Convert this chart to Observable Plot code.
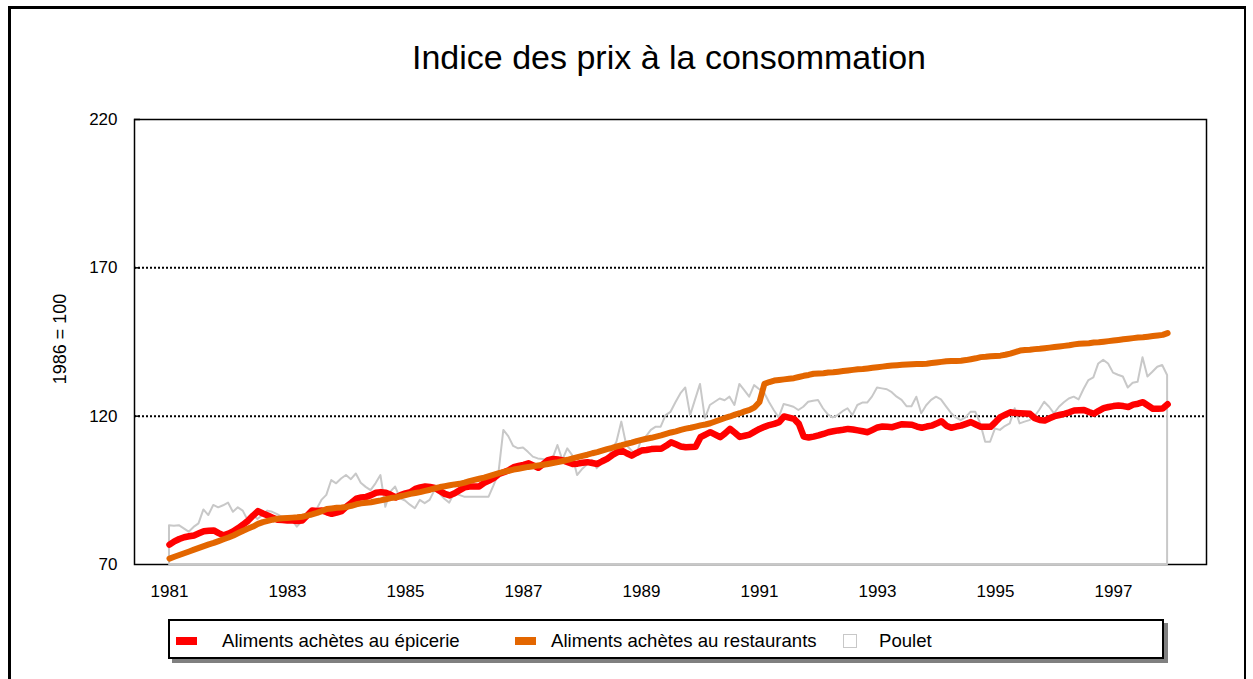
<!DOCTYPE html>
<html><head><meta charset="utf-8">
<script src="https://cdn.jsdelivr.net/npm/d3@7"></script>
<script src="https://cdn.jsdelivr.net/npm/@observablehq/plot@0.6"></script>
<style>
body{margin:0;background:#fff;font-family:"Liberation Sans",Arial,sans-serif;width:1253px;height:679px;overflow:hidden;position:relative;}
#frame{position:absolute;left:8px;top:6px;width:1238px;height:720px;border-left:3px solid #000;border-top:3px solid #000;border-right:2px solid #000;box-sizing:border-box;}
#title{position:absolute;left:0;top:40px;width:1338px;text-align:center;font-size:34px;line-height:34px;color:#000;}
#chart{position:absolute;left:0;top:0;}
#legend{position:absolute;left:168px;top:619px;width:996px;height:40px;border:2px solid #000;box-sizing:border-box;background:#fff;box-shadow:4px 4px 0 #808080;}
.item{position:absolute;top:2px;height:36px;display:flex;align-items:center;font-size:18.6px;color:#000;}
.sw{display:inline-block;}
</style></head>
<body>
<div id="frame"></div>
<div id="chart"></div>
<div id="title">Indice des prix à la consommation</div>
<div id="legend"></div>
<script>
// Monthly values, Jan 1981 – Dec 1997 (1986 = 100)
const startYear = 1981;
const epicerie = [
 76.7,77.8,78.6,79.2,79.5,79.8,80.5,81.2,81.4,81.5,80.6,79.8,
 80.4,81.2,82.3,83.5,84.8,86.5,88.0,87.2,86.5,85.8,85.1,85.0,
 84.8,84.8,84.7,84.8,86.5,88.2,88.0,88.2,87.6,87.1,87.5,88.0,
 89.5,90.8,92.2,92.6,92.8,93.4,94.2,94.4,94.2,93.5,92.6,93.4,
 94.0,94.4,95.5,96.0,96.3,96.1,95.8,94.8,93.8,93.3,94.0,95.0,
 96.0,96.3,96.3,96.3,97.5,98.3,99.2,100.5,101.1,101.8,102.8,103.2,
 103.6,104.1,103.4,102.6,103.8,105.2,105.6,105.4,105.1,104.5,103.9,104.0,
 104.3,104.5,104.2,103.9,104.8,105.6,106.8,107.8,108.4,107.5,106.7,107.6,
 108.4,108.6,108.9,109.0,109.0,110.0,111.2,110.5,109.8,109.5,109.6,109.7,
 112.9,113.8,114.6,113.8,112.9,114.2,115.7,114.4,113.0,113.4,113.8,114.8,
 115.7,116.4,117.0,117.4,118.0,119.9,119.5,119.1,117.4,113.1,112.8,113.1,
 113.5,114.0,114.6,114.9,115.2,115.4,115.7,115.5,115.2,114.9,114.6,115.4,
 116.2,116.5,116.4,116.3,116.8,117.3,117.2,117.1,116.5,116.1,116.5,116.8,
 117.5,118.3,116.8,116.1,116.5,116.8,117.4,118.0,117.2,116.4,116.4,116.4,
 118.0,119.7,120.5,121.3,121.1,121.0,120.9,120.8,119.3,118.7,118.5,119.3,
 120.0,120.4,120.8,121.3,121.9,122.0,122.1,121.4,120.8,121.8,122.7,123.1,
 123.4,123.6,123.4,123.1,123.9,124.2,124.7,123.6,122.5,122.5,122.6,124.0
];
const restaurants = [
 72.0,72.6,73.2,73.8,74.4,75.0,75.6,76.2,76.8,77.3,77.9,78.5,
 79.1,79.8,80.6,81.4,82.1,82.8,83.7,84.3,84.7,85.1,85.4,85.6,
 85.7,85.8,85.9,86.1,86.5,86.9,87.4,88.0,88.7,88.9,89.1,89.2,
 89.4,89.8,90.3,90.6,90.8,91.0,91.3,91.6,92.0,92.4,92.6,93.0,
 93.4,93.8,94.1,94.4,94.8,95.2,95.7,96.1,96.4,96.7,97.0,97.2,
 97.6,98.1,98.5,98.9,99.3,99.8,100.3,100.8,101.2,101.6,102.0,102.3,
 102.6,102.9,103.1,103.4,103.6,103.9,104.2,104.5,104.9,105.3,105.8,106.2,
 106.6,107.0,107.5,107.9,108.4,108.9,109.3,109.8,110.2,110.7,111.1,111.6,
 112.0,112.4,112.7,113.1,113.5,114.0,114.5,114.9,115.4,115.8,116.1,116.5,
 116.9,117.2,117.6,118.2,118.8,119.4,119.9,120.5,121.0,121.6,122.1,123.0,
 124.8,130.9,131.5,132.0,132.2,132.4,132.6,132.8,133.2,133.6,133.9,134.3,
 134.4,134.5,134.7,134.8,135.0,135.2,135.4,135.6,135.8,135.9,136.1,136.3,
 136.5,136.7,136.9,137.1,137.2,137.3,137.4,137.5,137.6,137.6,137.7,137.9,
 138.1,138.3,138.5,138.6,138.6,138.7,138.9,139.2,139.5,139.9,140.0,140.2,
 140.3,140.4,140.7,141.1,141.6,142.1,142.3,142.4,142.6,142.7,142.9,143.1,
 143.3,143.5,143.7,143.9,144.2,144.4,144.5,144.6,144.8,144.9,145.1,145.3,
 145.5,145.7,145.9,146.1,146.3,146.5,146.6,146.8,147.0,147.2,147.4,148.0
];
const poulet = [
 83.1,82.9,83.1,82.0,80.9,82.5,83.7,88.4,86.5,89.9,89.1,89.8,
 90.7,87.6,89.1,88.0,84.8,86.5,85.2,86.6,88.0,87.6,86.8,85.9,
 85.4,84.8,82.6,84.3,85.9,85.9,88.5,91.6,93.3,98.3,97.2,98.8,
 100.0,98.6,100.5,97.4,96.0,94.9,97.2,100.0,89.3,94.4,96.1,92.1,
 91.4,90.0,88.8,91.6,90.5,91.6,94.9,93.8,92.0,90.7,94.0,93.3,
 92.7,92.7,92.7,92.7,92.7,92.7,96.5,100.6,115.2,113.1,109.8,109.0,
 109.3,107.8,106.2,105.6,105.4,105.1,105.6,110.1,105.1,109.0,106.7,100.0,
 102.0,103.5,105.1,102.3,104.0,105.1,108.4,111.2,118.0,110.1,108.4,106.7,
 111.8,113.0,115.2,116.3,116.3,120.2,121.3,124.5,127.5,129.5,120.2,125.5,
 130.7,119.1,123.6,124.7,125.8,125.2,126.4,123.6,130.7,128.6,126.4,130.3,
 129.0,127.9,124.7,121.9,119.4,123.9,123.5,123.0,121.9,123.0,124.7,125.0,
 125.3,122.5,120.4,119.4,120.2,121.5,122.5,120.2,123.6,124.4,124.4,126.5,
 129.5,129.2,128.9,127.9,126.4,125.3,123.2,123.2,126.4,120.8,123.5,125.3,
 126.4,125.5,123.2,121.0,119.4,118.5,119.4,121.3,121.3,117.4,111.2,111.2,
 115.7,115.2,116.5,117.4,122.5,117.4,118.0,118.5,119.7,122.0,124.7,123.0,
 120.8,123.0,124.5,125.8,126.4,125.5,129.0,132.0,132.9,137.6,138.8,137.6,
 134.5,133.8,133.2,129.5,131.1,131.4,139.7,133.2,134.8,136.5,137.1,133.7
];
const xTicks = [1981,1983,1985,1987,1989,1991,1993,1995,1997];
const yTicks = [70,120,170,220];
const gridValues = [120,170];
const yLabel = "1986 = 100";
const seriesNames = ["Aliments achètes au épicerie","Aliments achètes au restaurants","Poulet"];
const colors = ["#ff0000","#e36600","#c8c8c8"];

const rows = epicerie.map((e, i) => ({
  t: startYear + i / 12, e, r: restaurants[i], p: poulet[i]
}));

const chart = Plot.plot({
  width: 1253, height: 610,
  marginLeft: 134, marginRight: 47, marginTop: 119, marginBottom: 46,
  style: {fontFamily: "Liberation Sans, Arial, sans-serif", fontSize: "17px", color: "#000", background: "transparent"},
  x: {domain: [1980.407, 1998.576], ticks: xTicks, tickFormat: d => String(d)},
  y: {domain: [70, 220], ticks: yTicks},
  marks: [
    Plot.ruleY(gridValues, {stroke: "#000", strokeWidth: 2, strokeDasharray: "2,2"}),
    Plot.ruleY(yTicks.slice(1), {stroke: "#000", strokeWidth: 1.5, insetRight: 1066}),
    Plot.frame({stroke: "#000", strokeWidth: 1.5}),
    Plot.areaY(rows, {x: "t", y1: 70, y2: "p", fill: "none", stroke: colors[2], strokeWidth: 2}),
    Plot.line(rows, {x: "t", y: "e", stroke: colors[0], strokeWidth: 6.5}),
    Plot.line(rows, {x: "t", y: "r", stroke: colors[1], strokeWidth: 6}),
    Plot.axisX({ticks: xTicks, tickSize: 0, tickPadding: 20, tickFormat: d => String(d), label: null, fontSize: 17}),
    Plot.axisY({ticks: yTicks, tickSize: 0, tickPadding: 17, label: null, fontSize: 17}),
    Plot.text([yLabel], {text: d => d, frameAnchor: "left", textAnchor: "middle", dx: -74, dy: -3, rotate: -90, fontSize: 18})
  ]
});
document.getElementById("chart").appendChild(chart);

// Legend
const legend = document.getElementById("legend");
const items = [
  {name: seriesNames[0], color: colors[0], left: 6, textLeft: 52, type: "line"},
  {name: seriesNames[1], color: colors[1], left: 345, textLeft: 381, type: "line"},
  {name: seriesNames[2], color: colors[2], left: 673, textLeft: 709, type: "box"}
];
items.forEach(it => {
  const sw = document.createElement("div");
  sw.className = "item";
  sw.style.left = it.left + "px";
  const s = document.createElement("span");
  s.className = "sw";
  if (it.type === "line") {
    s.style.width = "21px"; s.style.height = "8px"; s.style.background = it.color;
  } else {
    s.style.width = "12px"; s.style.height = "12px"; s.style.border = "1px solid " + it.color; s.style.background = "#fff";
  }
  sw.appendChild(s);
  legend.appendChild(sw);
  const tx = document.createElement("div");
  tx.className = "item";
  tx.style.left = it.textLeft + "px";
  tx.textContent = it.name;
  legend.appendChild(tx);
});
</script>
</body></html>
